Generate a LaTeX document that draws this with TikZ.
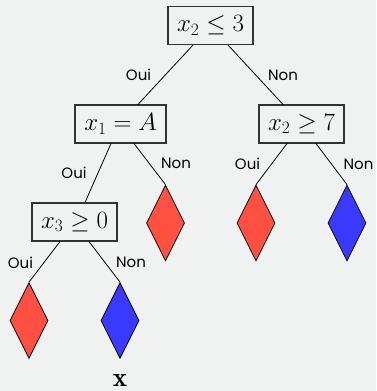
\documentclass[tikz,border=0pt]{standalone}
\usepackage{fontspec}
\newfontfamily\labelfont{Poppins}
\usetikzlibrary{shapes.geometric}
\definecolor{bgcol}{RGB}{240,241,241}
\definecolor{leafred}{RGB}{255,80,66}
\definecolor{leafblue}{RGB}{58,58,255}
\begin{document}
\begin{tikzpicture}[x=1pt,y=-1pt,
  testbox/.style={draw=black!80, line width=1.1pt, inner sep=0pt, minimum height=38pt,
    font=\fontsize{23.5}{27}\selectfont},
  leaf/.style={diamond, draw=black, line width=0.8pt, inner sep=0pt,
    minimum width=38pt, minimum height=76pt},
  redleaf/.style={leaf, fill=leafred},
  blueleaf/.style={leaf, fill=leafblue},
  branch/.style={draw=black, line width=0.8pt},
  lab/.style={font=\labelfont\fontsize{15}{17}\selectfont, inner sep=0pt}]
  \fill[bgcol] (0,0) rectangle (376,391);
  \useasboundingbox (0,0) rectangle (376,391);

  % decision nodes
  \node[testbox, minimum width=85pt] (root) at (210.5,25.5) {$x_2 \leq 3$};
  \node[testbox, minimum width=91pt] (a) at (120.5,124) {$x_1 = A$};
  \node[testbox, minimum width=85pt] (b) at (301.5,124) {$x_2 \geq 7$};
  \node[testbox, minimum width=85pt] (c) at (74.5,222) {$x_3 \geq 0$};

  % leaves
  \node[redleaf] (l1) at (165.5,223) {};
  \node[redleaf] (l2) at (256,223) {};
  \node[blueleaf] (l3) at (347,223) {};
  \node[redleaf] (l4) at (29,320.5) {};
  \node[blueleaf] (l5) at (120,320.5) {};

  % branches
  \draw[branch] ([xshift=-17.5pt]root.south) -- ([xshift=17.5pt]a.north);
  \draw[branch] ([xshift=17.5pt]root.south) -- ([xshift=-18.5pt]b.north);
  \draw[branch] ([xshift=-9.5pt]a.south) -- ([xshift=10.5pt]c.north);
  \draw[branch] ([xshift=13.5pt]a.south) -- (l1.north);
  \draw[branch] ([xshift=-14.5pt]b.south) -- (l2.north);
  \draw[branch] ([xshift=14.5pt]b.south) -- (l3.north);
  \draw[branch] ([xshift=-14.5pt]c.south) -- (l4.north);
  \draw[branch] ([xshift=14.5pt]c.south) -- (l5.north);

  % branch labels
  \node[lab] (o1) at (138.5,75) {Oui};
  \node[lab] (n1) at (283,75) {Non};
  \node[lab] (o2) at (74,173) {Oui};
  \node[lab] (n2) at (176,163.5) {Non};
  \node[lab] (o3) at (247.5,164) {Oui};
  \node[lab] (n3) at (358.5,164) {Non};
  \node[lab] (o4) at (20.5,262.5) {Oui};
  \node[lab] (n4) at (131,262.5) {Non};

  % sample point
  \node[font=\fontsize{27}{30}\selectfont, inner sep=0pt] (x) at (120,381) {$\mathbf{x}$};
\end{tikzpicture}
\end{document}
